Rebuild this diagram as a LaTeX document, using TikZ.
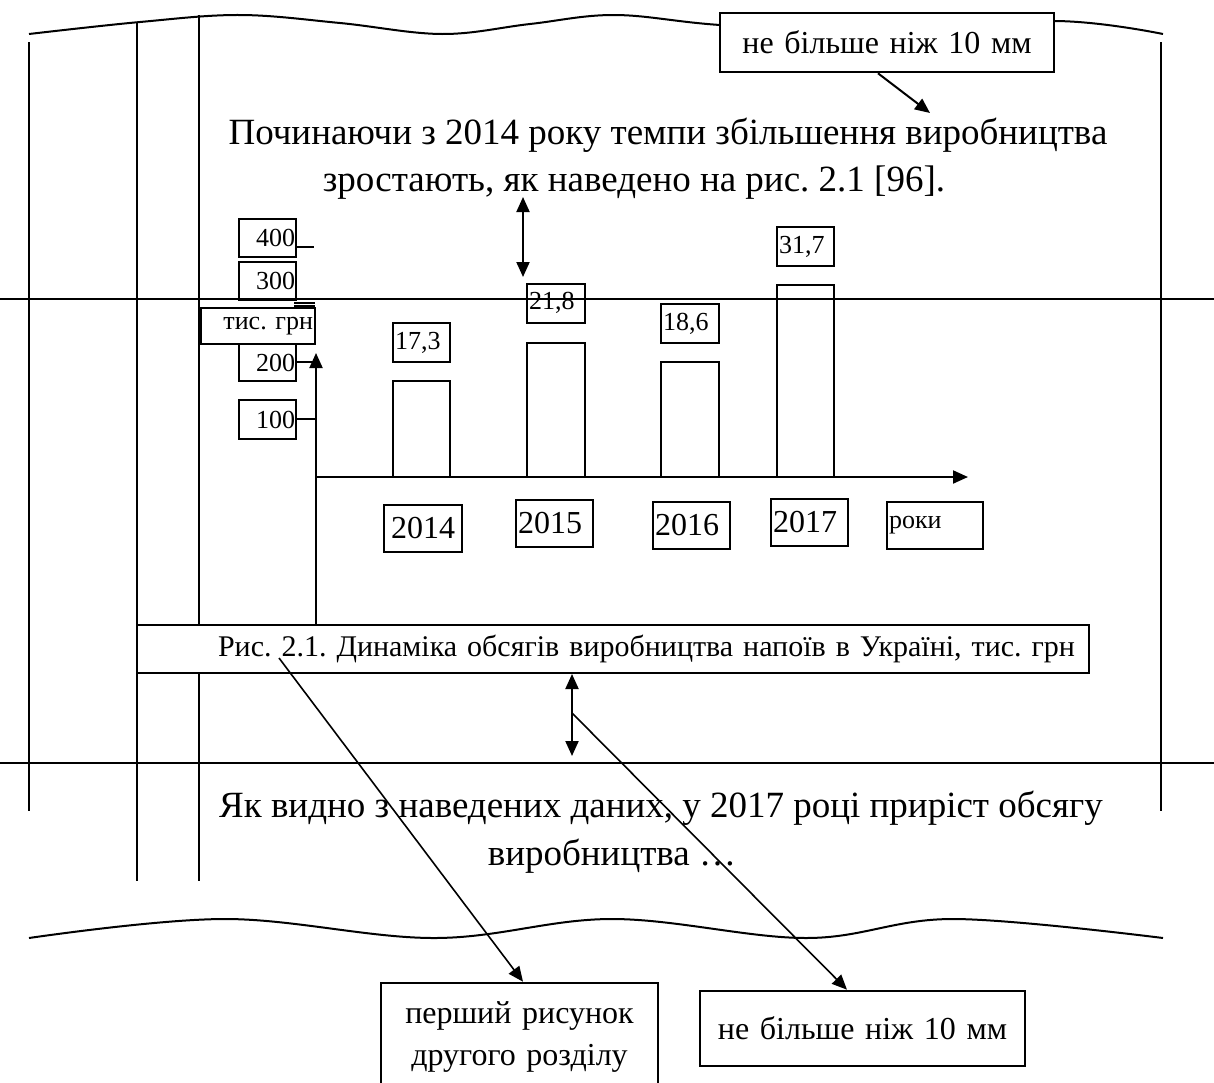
\documentclass[tikz,border=0pt]{standalone}
\usepackage{fontspec}
\setmainfont{Liberation Serif}
\usetikzlibrary{arrows.meta}
\begin{document}
\frenchspacing
\begin{tikzpicture}[x=0.5pt,y=-0.5pt,
  ln/.style={line width=1pt},
  dln/.style={line width=0.8pt},
  bx/.style n args={3}{draw, line width=1.3pt, inner xsep=#3, inner ysep=0pt,
      text width=#1-2*#3, minimum height=#2, align=center},
  arr/.style={-{Triangle[length=7.5pt,width=6.5pt]}},
  darr/.style={{Triangle[length=7.5pt,width=6.5pt]}-{Triangle[length=7.5pt,width=6.5pt]}},
  maintext/.style={font=\fontsize{18.5}{22}\selectfont, inner sep=0pt},
  tick/.style={font=\fontsize{13}{15}\selectfont},
  yr/.style={font=\fontsize{16}{18}\selectfont},
]
\useasboundingbox (0,0) rectangle (1214,1082);

% wavy edges
\draw[ln] plot[smooth, tension=0.6] coordinates {(29,34) (140,22) (240,15) (340,23) (442,34) (530,24) (615,15) (720,25) (880,33) (1054,21) (1163,34)};
\draw[ln] plot[smooth, tension=0.6] coordinates {(29,938) (225,919) (434,938) (612,919) (806,938) (953,919) (1163,938)};

% page margins
\draw[ln] (29,42) -- (29,811);
\draw[ln] (137,23) -- (137,881);
\draw[ln] (199,15) -- (199,881);
\draw[ln] (1161,42) -- (1161,811);

% annotation at top
\node[bx={167pt}{29.5pt}{2pt}, fill=white, font=\fontsize{16}{18}\selectfont] (topnote) at (887,42.5) {не більше ніж 10 мм};
\coordinate (tip1) at (930,113);
\draw[ln, arr] ([xshift=-4.5pt]topnote.south) -- (tip1);

% main text
\node[maintext] (t1) at (668,135) {Починаючи з 2014 року темпи збільшення виробництва};
\node[maintext] (t2) at (634,183) {зростають, як наведено на рис. 2.1 [96].};
\node[maintext] (t3) at (661,808) {Як видно з наведених даних, у 2017 році приріст обсягу};
\node[maintext] (t4) at (612,856) {виробництва …};

% double arrow text-to-figure
\coordinate (da1) at (523,197);
\coordinate (da2) at (523,277);
\draw[ln, darr] (da1) -- (da2);

% y scale labels
\node[bx={28.5pt}{19pt}{0.5pt}, align=right, tick] (v400) at (267.5,238) {400};
\node[bx={28.5pt}{19pt}{0.5pt}, align=right, tick] (v300) at (267.5,281) {300};
\node[bx={57pt}{18pt}{1pt}, align=right, tick, fill=white] (tg) at (258,326) {тис. грн};
\node[bx={28.5pt}{18.5pt}{0.5pt}, align=right, tick] (v200) at (267.5,362.5) {200};
\node[bx={28.5pt}{19.5pt}{0.5pt}, align=right, tick] (v100) at (267.5,419.5) {100};
\draw[ln] (296,247) -- (314,247);
\draw[ln] (294,302.5) -- (315,302.5);
\draw[ln] (294,306) -- (315,306);
\draw[ln] (296,362) -- (316,362);
\draw[ln] (296,419) -- (316,419);

% caption
\node[bx={476pt}{24pt}{7pt}, align=right, fill=white, font=\fontsize{15}{18}\selectfont] (cap) at (613,649) {Рис. 2.1. Динаміка обсягів виробництва напоїв в Україні, тис. грн};

% axes
\coordinate (yb) at (316,625);
\coordinate (yt) at (316,353);
\coordinate (o) at (316,477);
\coordinate (xe) at (968,477);
\draw[ln, arr] (yb) -- (yt);
\draw[ln, arr] (o) -- (xe);

% bars
\node[bx={28.5pt}{48pt}{0pt}] (b2014) at (421.5,429) {};
\node[bx={29pt}{67pt}{0pt}] (b2015) at (556,410) {};
\node[bx={29pt}{57.5pt}{0pt}] (b2016) at (690,419.5) {};
\node[bx={28.5pt}{96pt}{0pt}] (b2017) at (805.5,381) {};

% values
\node[bx={28.5pt}{19.5pt}{1pt}, align=left, tick] (l173) at (421.5,342.5) {17,3};
\node[bx={29pt}{19.5pt}{1pt}, align=left, tick] (l218) at (556,303.5) {\raisebox{3pt}{21,8}};
\node[bx={29pt}{19.5pt}{1pt}, align=left, tick] (l186) at (690,323.5) {18,6};
\node[bx={28.5pt}{19.5pt}{1pt}, align=left, tick] (l317) at (805.5,246.5) {31,7};

% years
\node[bx={39pt}{23.5pt}{1pt}, yr] (y2014) at (423,528.5) {2014};
\node[bx={38.5pt}{23.5pt}{1pt}, yr, align=left] (y2015) at (554.5,523.5) {2015};
\node[bx={38.5pt}{23.5pt}{1pt}, yr, align=left] (y2016) at (691.5,525.5) {2016};
\node[bx={38.5pt}{23.5pt}{1pt}, yr, align=left] (y2017) at (809.5,522.5) {2017};
\node[bx={48pt}{23.5pt}{1pt}, align=left, font=\fontsize{13}{15}\selectfont] (roki) at (935,525.5) {роки};

% double arrow figure-to-text
\coordinate (db1) at (572,674);
\coordinate (db2) at (572,756);
\coordinate (dbm) at (572,713);
\draw[ln, darr] (db1) -- (db2);

% horizontal guide lines
\draw[ln] (0,299) -- (1214,299);
\draw[ln] (0,763) -- (1214,763);

% bottom annotations
\node[bx={138.5pt}{54pt}{2pt}, font=\fontsize{16}{21}\selectfont] (bn1) at (519.5,1037) {перший рисунок\\другого розділу};
\node[bx={162.5pt}{37.5pt}{2pt}, font=\fontsize{16}{18}\selectfont] (bn2) at (862.5,1028.5) {не більше ніж 10 мм};
\coordinate (d1s) at (279,658);
\draw[dln, arr] (d1s) -- ([xshift=1.75pt]bn1.north);
\draw[dln, arr] (dbm) -- ([xshift=-7.75pt]bn2.north);
\end{tikzpicture}
\end{document}
